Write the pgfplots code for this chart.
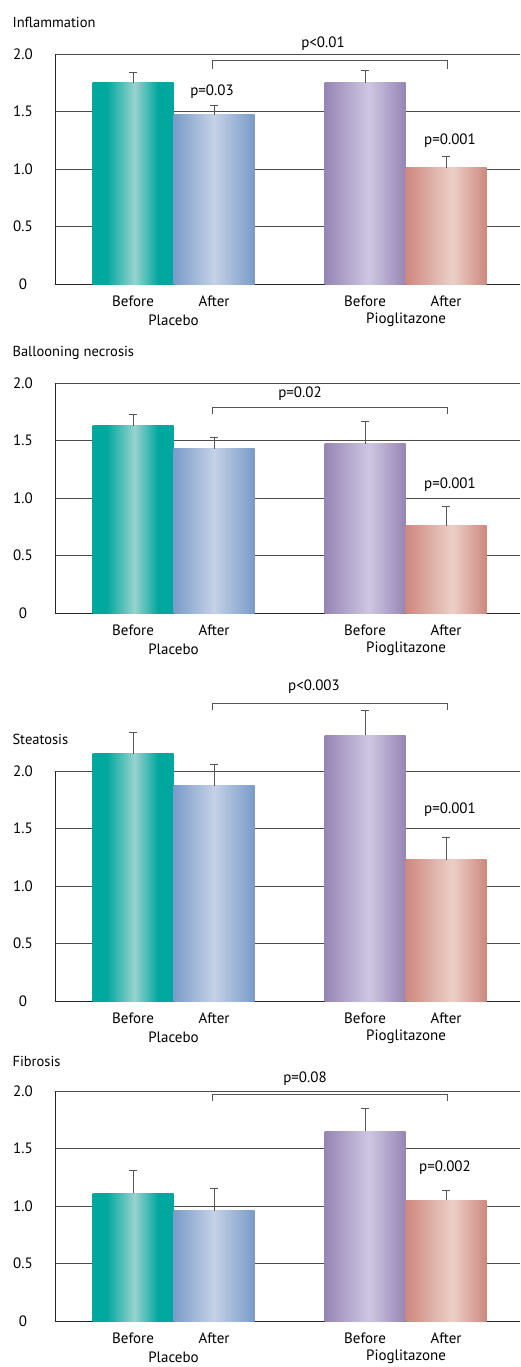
\documentclass[border=0pt]{standalone}
\usepackage{fontspec}
\setmainfont{PT Sans}
\usepackage{pgfplots}
\pgfplotsset{compat=1.18}
\definecolor{tealD}{RGB}{0,167,158}
\definecolor{tealL}{RGB}{152,210,206}
\definecolor{blueD}{RGB}{121,155,200}
\definecolor{blueL}{RGB}{197,209,231}
\definecolor{purD}{RGB}{150,133,181}
\definecolor{purL}{RGB}{206,199,225}
\definecolor{salD}{RGB}{205,136,126}
\definecolor{salL}{RGB}{236,207,200}
\definecolor{gline}{RGB}{85,85,85}
\pgfdeclarehorizontalshading{tealsh}{100bp}{color(0bp)=(tealD); color(33.5bp)=(tealD); color(51bp)=(tealL); color(65.5bp)=(tealD); color(100bp)=(tealD)}
\pgfdeclarehorizontalshading{bluesh}{100bp}{color(0bp)=(blueD); color(25bp)=(blueD); color(50bp)=(blueL); color(75bp)=(blueD); color(100bp)=(blueD)}
\pgfdeclarehorizontalshading{pursh}{100bp}{color(0bp)=(purD); color(25bp)=(purD); color(52.5bp)=(purL); color(75bp)=(purD); color(100bp)=(purD)}
\pgfdeclarehorizontalshading{salsh}{100bp}{color(0bp)=(salD); color(25bp)=(salD); color(54bp)=(salL); color(75bp)=(salD); color(100bp)=(salD)}
\tikzset{pl/.style={font=\fontsize{15}{18}\selectfont},
 ttl/.style={anchor=west, font=\fontsize{14.5}{17}\selectfont}}
\pgfplotsset{
 panel/.style={
  scale only axis, width=465pt, height=230pt,
  xmin=55, xmax=520, ymin=0, ymax=2,
  axis lines*=left, axis line style={black!85, line width=0.9pt},
  ymajorgrids, grid style={black!70, line width=0.8pt},
  ytick={0,0.5,1,1.5,2}, yticklabels={0,0.5,1.0,1.5,2.0},
  xtick={133,214,365,446}, xticklabels={Before,After,Before,After},
  major tick length=0pt,
  tick label style={font=\fontsize{15}{18}\selectfont},
  yticklabel style={anchor=center, xshift=-32pt},
  xticklabel style={anchor=center, yshift=-17pt},
  clip=false,
  /pgf/number format/assume math mode=true,
 },
 bb/.style={ybar, bar width=81, bar shift=0pt, draw=none, shading=#1, forget plot},
 eb/.style={forget plot, draw=none, mark=none,
  error bars/.cd, y dir=plus, y explicit,
  error bar style={draw=gline, line width=0.8pt},
  error mark options={draw=gline, rotate=90, mark size=4pt, line width=0.8pt}},
}
\newcommand{\groups}{%
 \node[pl] at (axis cs:173.5,0) [yshift=-36pt] {Placebo};
 \node[pl] at (axis cs:406,0) [yshift=-36pt] {Pioglitazone};}
\begin{document}
\begin{tikzpicture}
\useasboundingbox (0pt,0pt) rectangle (520pt,-1367pt);
% Panel 1
\node[ttl] at (9pt,-22pt) {Inflammation};
\begin{axis}[panel, at={(55pt,-284pt)}, anchor=south west]
\addplot[bb=tealsh] coordinates {(133,1.75)};
\addplot[bb=bluesh] coordinates {(214,1.47)};
\addplot[bb=pursh] coordinates {(365,1.75)};
\addplot[bb=salsh] coordinates {(446,1.01)};
\addplot[eb] coordinates {(133,1.75) +- (0,0.09) (214,1.47) +- (0,0.08) (365,1.75) +- (0,0.11) (446,1.01) +- (0,0.10)};
\draw[gline, line width=0.8pt] (axis cs:212,1.87) -- (axis cs:212,1.94) -- (axis cs:447,1.94) -- (axis cs:447,1.87);
\node[pl] at (axis cs:323,2.09) {p<0.01};
\node[pl] at (axis cs:212,1.67) {p=0.03};
\node[pl] at (axis cs:450,1.25) {p=0.001};
\groups
\end{axis}
% Panel 2
\node[ttl] at (9pt,-353pt) {Ballooning necrosis};
\begin{axis}[panel, at={(55pt,-613pt)}, anchor=south west]
\addplot[bb=tealsh] coordinates {(133,1.63)};
\addplot[bb=bluesh] coordinates {(214,1.43)};
\addplot[bb=pursh] coordinates {(365,1.47)};
\addplot[bb=salsh] coordinates {(446,0.76)};
\addplot[eb] coordinates {(133,1.63) +- (0,0.10) (214,1.43) +- (0,0.10) (365,1.47) +- (0,0.20) (446,0.76) +- (0,0.17)};
\draw[gline, line width=0.8pt] (axis cs:212,1.73) -- (axis cs:212,1.79) -- (axis cs:447,1.79) -- (axis cs:447,1.73);
\node[pl] at (axis cs:300,1.91) {p=0.02};
\node[pl] at (axis cs:450,1.12) {p=0.001};
\groups
\end{axis}
% Panel 3
\node[ttl] at (9pt,-739pt) {Steatosis};
\begin{axis}[panel, at={(55pt,-1001pt)}, anchor=south west]
\addplot[bb=tealsh] coordinates {(133,2.15)};
\addplot[bb=bluesh] coordinates {(214,1.87)};
\addplot[bb=pursh] coordinates {(365,2.31)};
\addplot[bb=salsh] coordinates {(446,1.23)};
\addplot[eb] coordinates {(133,2.15) +- (0,0.19) (214,1.87) +- (0,0.19) (365,2.31) +- (0,0.22) (446,1.23) +- (0,0.19)};
\draw[gline, line width=0.8pt] (axis cs:212,2.53) -- (axis cs:212,2.59) -- (axis cs:447,2.59) -- (axis cs:447,2.53);
\node[pl] at (axis cs:314,2.73) {p<0.003};
\node[pl] at (axis cs:450,1.66) {p=0.001};
\groups
\end{axis}
% Panel 4
\node[ttl] at (9pt,-1061pt) {Fibrosis};
\begin{axis}[panel, at={(55pt,-1321pt)}, anchor=south west]
\addplot[bb=tealsh] coordinates {(133,1.11)};
\addplot[bb=bluesh] coordinates {(214,0.96)};
\addplot[bb=pursh] coordinates {(365,1.65)};
\addplot[bb=salsh] coordinates {(446,1.05)};
\addplot[eb] coordinates {(133,1.11) +- (0,0.20) (214,0.96) +- (0,0.19) (365,1.65) +- (0,0.20) (446,1.05) +- (0,0.09)};
\draw[gline, line width=0.8pt] (axis cs:212,1.91) -- (axis cs:212,1.97) -- (axis cs:447,1.97) -- (axis cs:447,1.91);
\node[pl] at (axis cs:305,2.11) {p=0.08};
\node[pl] at (axis cs:445,1.33) {p=0.002};
\groups
\end{axis}
\end{tikzpicture}
\end{document}
